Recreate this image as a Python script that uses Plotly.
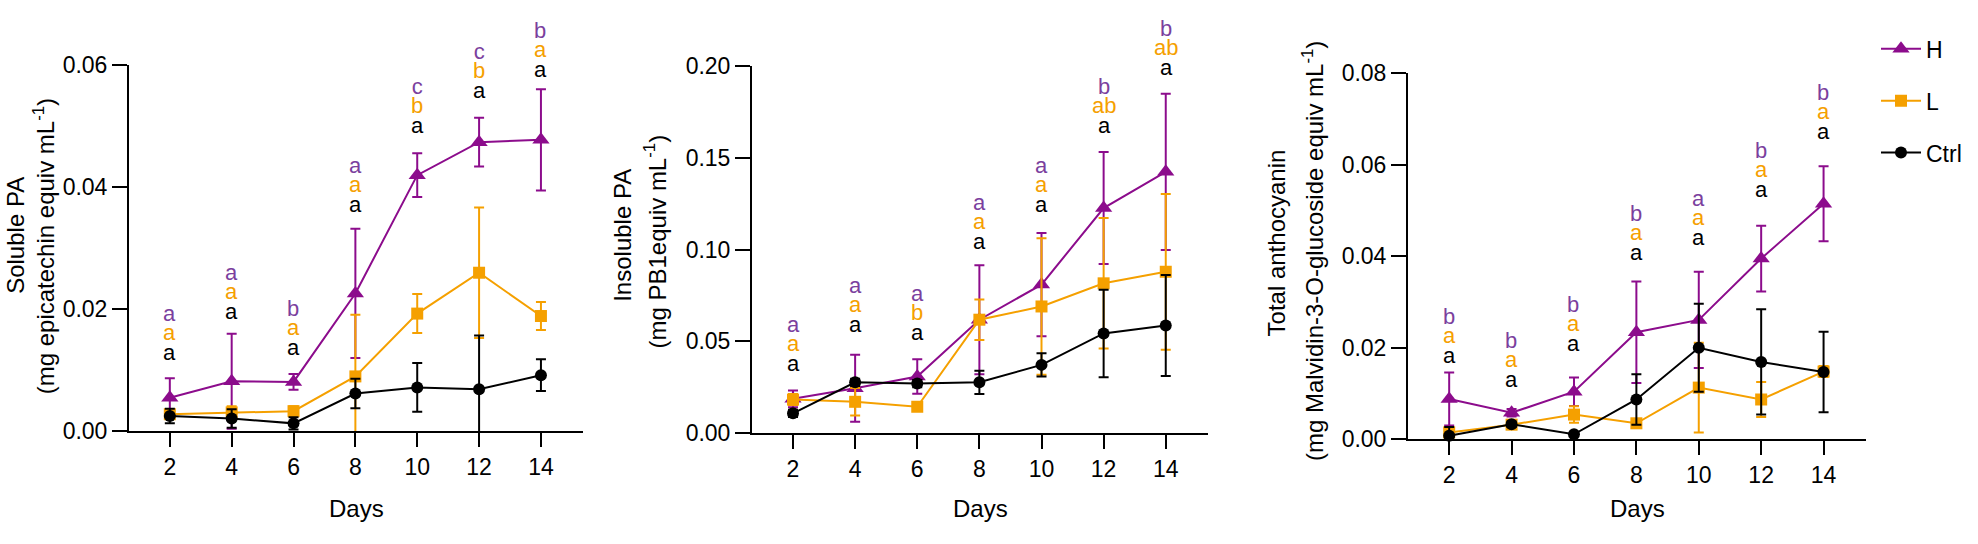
import plotly.graph_objects as go

days = [2, 4, 6, 8, 10, 12, 14]
group_names = ["H", "L", "Ctrl"]

# ---- Panel 1: Soluble PA ----
sol_H = [0.0055, 0.0082, 0.0081, 0.0226, 0.0420, 0.0474, 0.0478]
sol_H_sd = [0.0032, 0.0078, 0.0013, 0.0106, 0.0036, 0.0040, 0.0083]
sol_L = [0.0028, 0.0031, 0.0033, 0.0090, 0.0193, 0.0260, 0.0189]
sol_L_sd = [0.0006, 0.0010, 0.0008, 0.0101, 0.0032, 0.0107, 0.0023]
sol_C = [0.0025, 0.0021, 0.0013, 0.0062, 0.0072, 0.0069, 0.0092]
sol_C_sd = [0.0012, 0.0015, 0.0010, 0.0024, 0.0040, 0.0088, 0.0026]
sol_let_H = ["a", "a", "b", "a", "c", "c", "b"]
sol_let_L = ["a", "a", "a", "a", "b", "b", "a"]
sol_let_C = ["a", "a", "a", "a", "a", "a", "a"]
sol_let_y = [0.0130, 0.0196, 0.0137, 0.0372, 0.0502, 0.0559, 0.0593]

# ---- Panel 2: Insoluble PA ----
ins_H = [0.0187, 0.0245, 0.0309, 0.0618, 0.0809, 0.1226, 0.1423]
ins_H_sd = [0.0045, 0.0182, 0.0094, 0.0297, 0.0281, 0.0305, 0.0425]
ins_L = [0.0183, 0.0171, 0.0144, 0.0618, 0.0690, 0.0816, 0.0879]
ins_L_sd = [0.0030, 0.0075, 0.0012, 0.0110, 0.0372, 0.0355, 0.0424]
ins_C = [0.0108, 0.0277, 0.0270, 0.0277, 0.0372, 0.0543, 0.0586]
ins_C_sd = [0.0020, 0.0020, 0.0020, 0.0063, 0.0063, 0.0238, 0.0275]
ins_let_H = ["a", "a", "a", "a", "a", "b", "b"]
ins_let_L = ["a", "a", "b", "a", "a", "ab", "ab"]
ins_let_C = ["a", "a", "a", "a", "a", "a", "a"]
ins_let_y = [0.0380, 0.0593, 0.0552, 0.1046, 0.1244, 0.1675, 0.1990]

# ---- Panel 3: Total anthocyanin ----
ant_H = [0.0088, 0.0058, 0.0104, 0.0234, 0.0261, 0.0395, 0.0515]
ant_H_sd = [0.0058, 0.0008, 0.0031, 0.0111, 0.0105, 0.0072, 0.0082]
ant_L = [0.0015, 0.0032, 0.0054, 0.0035, 0.0113, 0.0087, 0.0148]
ant_L_sd = [0.0008, 0.0006, 0.0018, 0.0006, 0.0098, 0.0038, 0.0012]
ant_C = [0.0008, 0.0033, 0.0011, 0.0087, 0.0200, 0.0169, 0.0147]
ant_C_sd = [0.0019, 0.0006, 0.0004, 0.0055, 0.0096, 0.0115, 0.0088]
ant_let_H = ["b", "b", "b", "b", "a", "b", "b"]
ant_let_L = ["a", "a", "a", "a", "a", "a", "a"]
ant_let_C = ["a", "a", "a", "a", "a", "a", "a"]
ant_let_y = [0.0184, 0.0132, 0.0209, 0.0408, 0.0442, 0.0546, 0.0674]

y_title_main = ["Soluble PA", "Insoluble PA", "Total anthocyanin"]
y_title_unit = [
    "(mg epicatechin equiv mL<sup>-1</sup>)",
    "(mg PB1equiv mL<sup>-1</sup>)",
    "(mg Malvidin-3-O-glucoside equiv mL<sup>-1</sup>)",
]
y_ranges = [[0, 0.06], [0, 0.20], [0, 0.08]]
y_dticks = [0.02, 0.05, 0.02]
x_ticks = [2, 4, 6, 8, 10, 12, 14]
x_label = "Days"

FONT = "Liberation Sans, Arial, Helvetica, sans-serif"
W, H = 1978, 544
PURPLE = "#8C0C8C"
PURPLE_TXT = "#7B3F9E"
ORANGE = "#F5A000"
BLACK = "#000000"
LETTER_PX = 22
LETTER_STEP = 19.3

# pixel layout of each panel (plot area) and its title lines
panels = [
    dict(means=[sol_H, sol_L, sol_C], sds=[sol_H_sd, sol_L_sd, sol_C_sd],
         lets=[sol_let_H, sol_let_L, sol_let_C], lety=sol_let_y,
         xpx=(129, 583), ypx=(55.0, 439.3),
         t1=(16, 234), t2=(44, 245)),
    dict(means=[ins_H, ins_L, ins_C], sds=[ins_H_sd, ins_L_sd, ins_C_sd],
         lets=[ins_let_H, ins_let_L, ins_let_C], lety=ins_let_y,
         xpx=(752, 1208), ypx=(55.5, 441.3),
         t1=(623, 234), t2=(655, 240)),
    dict(means=[ant_H, ant_L, ant_C], sds=[ant_H_sd, ant_L_sd, ant_C_sd],
         lets=[ant_let_H, ant_let_L, ant_let_C], lety=ant_let_y,
         xpx=(1408, 1866), ypx=(63.3, 447.7),
         t1=(1276, 242), t2=(1313, 250)),
]

styles = [
    dict(color=PURPLE, txt=PURPLE_TXT, symbol="triangle-up", size=15),
    dict(color=ORANGE, txt=ORANGE, symbol="square", size=12),
    dict(color=BLACK, txt=BLACK, symbol="circle", size=12),
]

fig = go.Figure()
annotations = []
layout_axes = {}

for p, pan in enumerate(panels):
    sfx = "" if p == 0 else str(p + 1)
    xref, yref = "x" + sfx, "y" + sfx
    for g in range(3):
        st = styles[g]
        fig.add_trace(go.Scatter(
            x=days, y=pan["means"][g], name=group_names[g],
            mode="lines+markers", xaxis=xref, yaxis=yref,
            legendgroup=group_names[g], showlegend=(p == 0),
            cliponaxis=False,
            line=dict(color=st["color"], width=2),
            marker=dict(symbol=st["symbol"], size=st["size"], color=st["color"]),
            error_y=dict(type="data", array=pan["sds"][g], visible=True,
                         color=st["color"], thickness=2, width=5),
        ))
    x0, x1 = pan["xpx"]
    yt, yb = pan["ypx"]
    layout_axes["xaxis" + sfx] = dict(
        domain=[x0 / W, x1 / W], anchor=yref, range=[0.68, 15.36],
        tickmode="array", tickvals=x_ticks, ticks="outside", ticklen=14,
        tickwidth=2, tickcolor="black", showline=True, linewidth=2,
        linecolor="black", showgrid=False, zeroline=False,
        tickfont=dict(family=FONT, size=23, color="black"),
    )
    layout_axes["yaxis" + sfx] = dict(
        domain=[1 - yb / H, 1 - yt / H], anchor=xref, range=y_ranges[p],
        dtick=y_dticks[p], tick0=0, tickformat=".2f", ticks="outside",
        ticklen=15, tickwidth=2, tickcolor="black", showline=True,
        linewidth=2, linecolor="black", showgrid=False, zeroline=False,
        tickfont=dict(family=FONT, size=23, color="black"),
    )
    # significance letters: one stacked text per day (H over L over Ctrl)
    for i, d in enumerate(days):
        lines = []
        for g in range(3):
            lines.append('<span style="color:%s;font-size:%dpx">%s</span>'
                         % (styles[g]["txt"], LETTER_PX, pan["lets"][g][i]))
        annotations.append(dict(
            x=d, y=pan["lety"][i], xref=xref, yref=yref,
            text="<br>".join(lines), showarrow=False, yshift=LETTER_STEP,
            xanchor="center", yanchor="middle", align="center",
            font=dict(family=FONT, size=LETTER_STEP / 1.3, color="black"),
        ))
    # y-axis title, two lines
    for (tx, ty), txt in ((pan["t1"], y_title_main[p]), (pan["t2"], y_title_unit[p])):
        annotations.append(dict(
            x=tx / W, y=1 - ty / H, xref="paper", yref="paper",
            text=txt, textangle=-90, showarrow=False,
            xanchor="center", yanchor="middle",
            font=dict(family=FONT, size=24, color="black"),
        ))
    annotations.append(dict(
        x=(x0 + x1) / 2 / W, y=1 - 520 / H, xref="paper", yref="paper",
        text=x_label, showarrow=False, xanchor="center", yanchor="middle",
        font=dict(family=FONT, size=24, color="black"),
    ))

fig.update_layout(
    width=W, height=H,
    margin=dict(l=0, r=0, t=0, b=0),
    paper_bgcolor="white", plot_bgcolor="white",
    font=dict(family=FONT, color="black"),
    annotations=annotations,
    legend=dict(x=1876 / W, y=1 - 15 / H, xanchor="left", yanchor="top",
                font=dict(family=FONT, size=23, color="black"),
                itemwidth=40, tracegroupgap=19, bgcolor="rgba(0,0,0,0)"),
    **layout_axes,
)

fig.write_html(
    "out.html",
    config={"displayModeBar": False},
    post_script="document.body.style.margin='0px';document.body.style.overflow='hidden';",
)
